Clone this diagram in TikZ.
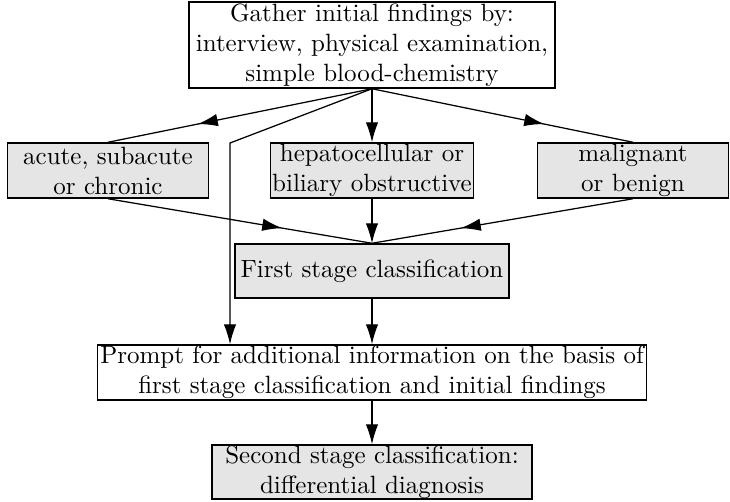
\documentclass[tikz,border=0pt]{standalone}
\usetikzlibrary{arrows.meta,decorations.markings}
\tikzset{
  box/.style={draw, line width=0.6pt, inner sep=0pt, align=center, font=\normalsize},
  graybox/.style={box, fill=gray!20},
  conn/.style={line width=0.5pt, -{Latex[length=8pt,width=5pt]}},
  midconn/.style={line width=0.5pt, postaction={decorate},
    decoration={markings, mark=at position 0.66 with {\arrow{Latex[length=8pt,width=5pt]}}}},
}
\begin{document}
\begin{tikzpicture}[x=0.4pt,y=-0.4pt]
\useasboundingbox (0,0) rectangle (730,501);
\node[box, minimum width=146.4pt, minimum height=34.4pt] (top) at (372,45)
  {Gather initial findings by:\\interview, physical examination,\\simple blood-chemistry};
\node[graybox, minimum width=80.4pt, minimum height=22pt] (acute) at (108,170.5)
  {acute, subacute\\or chronic};
\node[graybox, minimum width=81.2pt, minimum height=22pt] (hep) at (372,170.5)
  {hepatocellular or\\biliary obstructive};
\node[graybox, minimum width=76.4pt, minimum height=22pt] (mal) at (633,170.5)
  {malignant\\or benign};
\node[graybox, minimum width=109.6pt, minimum height=21.6pt] (first) at (372,271)
  {First stage classification};
\node[box, minimum width=219.6pt, minimum height=22pt] (prompt) at (372,372.5)
  {Prompt for additional information on the basis of\\first stage classification and initial findings};
\node[graybox, minimum width=128pt, minimum height=21.6pt] (second) at (372,472)
  {Second stage classification:\\differential diagnosis};
\coordinate (bend) at (230,143);
\draw[midconn] (top.south) -- (acute.north);
\draw[midconn] (top.south) -- (mal.north);
\draw[conn] (top.south) -- (hep.north);
\draw[conn] (top.south) -- (bend) -- (bend |- prompt.north);
\draw[midconn] (acute.south) -- (first.north);
\draw[midconn] (mal.south) -- (first.north);
\draw[conn] (hep.south) -- (first.north);
\draw[conn] (first.south) -- (prompt.north);
\draw[conn] (prompt.south) -- (second.north);
\end{tikzpicture}
\end{document}
